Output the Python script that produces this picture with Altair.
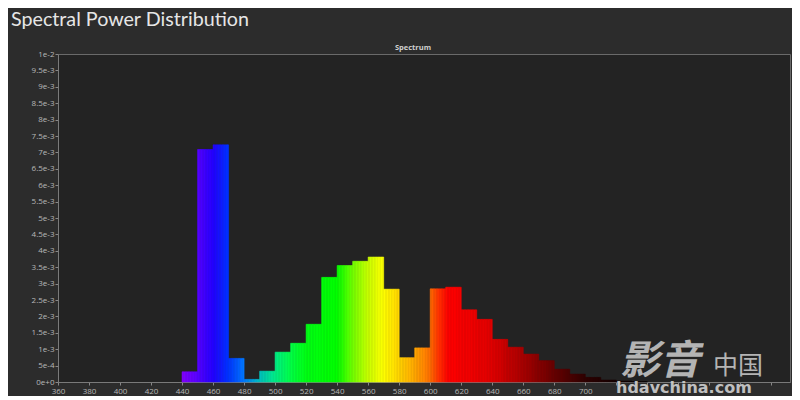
import json
import altair as alt
import pandas as pd

# ---- data (units of W / nm, 10 nm bins) ----
bin_start = [440, 450, 460, 470, 480, 490, 500, 510, 520, 530, 540, 550, 560, 570, 580,
             590, 600, 610, 620, 630, 640, 650, 660, 670, 680, 690, 700, 710, 720, 730]
power = [0.31e-3, 7.09e-3, 7.23e-3, 0.72e-3, 0.08e-3, 0.33e-3, 0.91e-3, 1.18e-3, 1.76e-3,
         3.19e-3, 3.55e-3, 3.68e-3, 3.81e-3, 2.83e-3, 0.74e-3, 1.04e-3, 2.84e-3, 2.89e-3,
         2.20e-3, 1.91e-3, 1.30e-3, 1.06e-3, 0.85e-3, 0.65e-3, 0.39e-3, 0.24e-3, 0.14e-3,
         0.06e-3, 0.03e-3, 0.01e-3]
bin_width = 10

x_ticks = list(range(360, 821, 20))
x_last_visible_label = 700  # labels further right are hidden under the watermark
y_ticks = [i * 0.0005 for i in range(21)]
y_labels = ["0e+0", "5e-4", "1e-3", "1.5e-3", "2e-3", "2.5e-3", "3e-3", "3.5e-3", "4e-3",
            "4.5e-3", "5e-3", "5.5e-3", "6e-3", "6.5e-3", "7e-3", "7.5e-3", "8e-3",
            "8.5e-3", "9e-3", "9.5e-3", "1e-2"]

# wavelength -> colour stops (style)
wl_stops = [440, 450, 460, 470, 480, 490, 500, 510, 520, 540, 550, 560, 570, 580, 590,
            600, 605, 612, 640, 660, 680, 700, 720, 740]
wl_colors = ["#8400ff", "#5800ff", "#2400ff", "#0034ff", "#0078ff", "#00c0c0", "#00ec88",
             "#00ff48", "#00ff14", "#00ff00", "#70ff00", "#c8ff00", "#ffff00", "#ffd400",
             "#ffa800", "#ff7000", "#ff3800", "#ff0000", "#e00000", "#a80000", "#680000",
             "#300000", "#140000", "#080000"]

# each bin drawn as 1 nm slices so the spectral gradient runs across the bar
rows = []
for s, p in zip(bin_start, power):
    for k in range(bin_width):
        rows.append({"x0": s + k, "x1": s + k + 1, "c": s + k + 0.5, "p": p})
df = pd.DataFrame(rows)

xscale = alt.Scale(domain=[360, 832], nice=False, zero=False)
yscale = alt.Scale(domain=[0, 0.01], nice=False)
cscale = alt.Scale(domain=wl_stops, range=wl_colors, type="linear", interpolate="rgb")

y_label_expr = json.dumps(y_labels) + "[round(datum.value / 0.0005)]"
x_label_expr = f"datum.value <= {x_last_visible_label} ? datum.label : ''"

bars = alt.Chart(df).mark_rect(strokeWidth=0.6).encode(
    x=alt.X("x0:Q", scale=xscale,
            axis=alt.Axis(values=x_ticks, labelExpr=x_label_expr, title=None, grid=False,
                          labelFontSize=8, labelColor="#b8b8b8", tickColor="#888888",
                          tickSize=3, domainColor="#7a7a7a", labelPadding=2,
                          labelFlush=False, labelFont="Open Sans")),
    x2="x1:Q",
    y=alt.Y("p:Q", scale=yscale,
            axis=alt.Axis(values=y_ticks, labelExpr=y_label_expr, title=None, grid=False,
                          labelFontSize=8, labelColor="#b8b8b8", tickColor="#888888",
                          tickSize=3, domainColor="#7a7a7a", labelPadding=1,
                          labelFont="Open Sans")),
    y2=alt.datum(0),
    color=alt.Color("c:Q", scale=cscale, legend=None),
    stroke=alt.Stroke("c:Q", scale=cscale, legend=None),
)

title = alt.Chart(pd.DataFrame({"t": ["Spectral Power Distribution"]})).mark_text(
    align="left", baseline="alphabetic", font="Lato", fontSize=19.7, color="#e6e6e6"
).encode(text="t:N", x=alt.value(-47), y=alt.value(-28))

sub = alt.Chart(pd.DataFrame({"t": ["Spectrum"]})).mark_text(
    align="center", baseline="alphabetic", font="Open Sans", fontSize=7.5,
    color="#d0d0d0", fontWeight="bold"
).encode(text="t:N", x=alt.value(355), y=alt.value(-4))

wm1 = alt.Chart(pd.DataFrame({"t": ["影音"]})).mark_text(
    align="left", baseline="alphabetic", font="Noto Sans CJK SC", fontSize=40,
    fontWeight="bold", fontStyle="italic", color="#c4c4c4", opacity=0.9
).encode(text="t:N", x=alt.value(562), y=alt.value(320))

wm2 = alt.Chart(pd.DataFrame({"t": ["中国"]})).mark_text(
    align="left", baseline="alphabetic", font="Noto Sans CJK SC", fontSize=25,
    color="#c4c4c4", opacity=0.9
).encode(text="t:N", x=alt.value(655), y=alt.value(320))

wm3 = alt.Chart(pd.DataFrame({"t": ["hdavchina.com"]})).mark_text(
    align="left", baseline="alphabetic", font="DejaVu Sans", fontSize=16,
    fontWeight="bold", color="#d0d0d0", opacity=0.9
).encode(text="t:N", x=alt.value(558), y=alt.value(339))

chart = alt.layer(bars, title, sub, wm1, wm2, wm3).properties(
    width=732, height=328,
    autosize=alt.AutoSizeParams(type="none"),
    padding={"left": 50, "top": 46, "right": 2, "bottom": 14},
    background="#2c2c2c",
).configure_view(fill="#232323", stroke="#6a6a6a", strokeWidth=1)

chart.save("out.html", embed_options={"renderer": "svg", "actions": False})
